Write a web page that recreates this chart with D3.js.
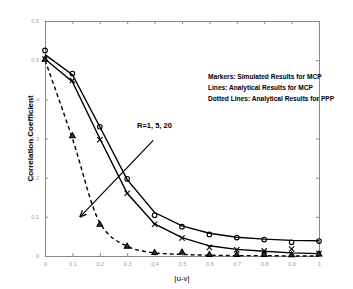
<!doctype html>
<html lang="en">
<head>
    <meta charset="UTF-8">
    <title>Correlation Coefficient</title>
    <style>
        body { margin: 0; background: #fff; }
        svg { font-family: "Liberation Sans", Arial, sans-serif; }
    </style>
</head>
<body>
<svg width="353" height="289"></svg>

<script src="https://d3js.org/d3.v7.min.js"></script>
<script>
    // |u-v| positions
    const distances = [0, 0.1, 0.2, 0.3, 0.4, 0.5, 0.6, 0.7, 0.8, 0.9, 1];

    // simulated MCP markers (circles / crosses), PPP markers (triangles)
    const simCircle = [0.525, 0.466, 0.330, 0.197, 0.104, 0.075, 0.055, 0.047, 0.042, 0.035, 0.038];
    const simCross  = [0.503, 0.448, 0.297, 0.160, 0.081, 0.046, 0.022, 0.016, 0.013, 0.018, 0.006];
    const simTri    = [0.500, 0.305, 0.079, 0.023, 0.007, 0.008, 0.002, 0.002, 0.002, 0.001, 0.003];

    // analytical curves
    const mcpUpper = [0.514, 0.463, 0.330, 0.195, 0.111, 0.077, 0.058, 0.048, 0.043, 0.040, 0.039];
    const mcpLower = [0.503, 0.445, 0.300, 0.160, 0.082, 0.047, 0.026, 0.017, 0.012, 0.008, 0.006];
    const pppCurve = [0.500, 0.300, 0.085, 0.025, 0.008, 0.004, 0.002, 0.001, 0.001, 0.000, 0.000];

    const xTicks = [0, 0.1, 0.2, 0.3, 0.4, 0.5, 0.6, 0.7, 0.8, 0.9, 1];
    const yTicks = [0, 0.1, 0.2, 0.3, 0.4, 0.5, 0.6];

    const legendLines = [
        'Markers: Simulated Results for MCP',
        'Lines: Analytical Results for MCP',
        'Dotted Lines: Analytical Results for PPP'
    ];

    const svg = d3.select('svg');
    const mLeft = 45, mRight = 319, mTop = 21, mBottom = 256;

    const x = d3.scaleLinear().domain([0, 1]).range([mLeft, mRight]);
    const y = d3.scaleLinear().domain([0, 0.6]).range([mBottom, mTop]);

    const axisColor = '#888';
    const tickColor = '#999';

    // axes (box with ticks on all sides)
    const xAxis = svg.append('g')
        .attr('transform', `translate(0,${mBottom})`)
        .call(d3.axisBottom(x).tickValues(xTicks).tickSize(-3).tickPadding(6)
            .tickFormat(d => d === 0 ? '0' : d === 1 ? '1' : d3.format('.1f')(d)));
    const yAxis = svg.append('g')
        .attr('transform', `translate(${mLeft},0)`)
        .call(d3.axisLeft(y).tickValues(yTicks).tickSize(-3).tickPadding(6)
            .tickFormat(d => d === 0 ? '0' : d3.format('.1f')(d)));
    const xTop = svg.append('g')
        .attr('transform', `translate(0,${mTop})`)
        .call(d3.axisTop(x).tickValues(xTicks).tickSize(-3).tickFormat(''));
    const yRight = svg.append('g')
        .attr('transform', `translate(${mRight},0)`)
        .call(d3.axisRight(y).tickValues(yTicks).tickSize(-3).tickFormat(''));

    [xAxis, yAxis, xTop, yRight].forEach(g => {
        g.select('.domain').attr('stroke', axisColor).attr('stroke-width', 1);
        g.selectAll('.tick line').attr('stroke', axisColor);
        g.selectAll('.tick text').attr('fill', tickColor).style('font-size', '5.5px');
    });

    // axis titles
    svg.append('text')
        .attr('x', x(0.5)).attr('y', 281)
        .attr('text-anchor', 'middle')
        .style('font-size', '8px')
        .text('|u-v|');
    svg.append('text')
        .attr('transform', `translate(33,${y(0.3)}) rotate(-90)`)
        .attr('text-anchor', 'middle')
        .style('font-size', '8px')
        .style('font-weight', 'bold')
        .text('Correlation Coefficient');

    const straight = d3.line().x((d, i) => x(distances[i])).y(d => y(d));
    const smooth = d3.line().x((d, i) => x(distances[i])).y(d => y(d)).curve(d3.curveMonotoneX);

    svg.append('path').datum(mcpUpper)
        .attr('d', straight).attr('fill', 'none').attr('stroke', '#000').attr('stroke-width', 1.4);
    svg.append('path').datum(mcpLower)
        .attr('d', straight).attr('fill', 'none').attr('stroke', '#000').attr('stroke-width', 1.4);
    svg.append('path').datum(pppCurve)
        .attr('d', smooth).attr('fill', 'none').attr('stroke', '#000')
        .attr('stroke-width', 1.4).attr('stroke-dasharray', '4,3');

    // markers
    svg.append('g').selectAll('circle').data(simCircle).join('circle')
        .attr('cx', (d, i) => x(distances[i])).attr('cy', d => y(d))
        .attr('r', 2.3).attr('fill', 'none').attr('stroke', '#000').attr('stroke-width', 1.1);

    const cross = d3.symbol().type(d3.symbolTimes).size(20);
    svg.append('g').selectAll('path').data(simCross).join('path')
        .attr('transform', (d, i) => `translate(${x(distances[i])},${y(d)})`)
        .attr('d', cross).attr('fill', 'none').attr('stroke', '#000').attr('stroke-width', 1.1);

    const tri = d3.symbol().type(d3.symbolTriangle).size(14);
    svg.append('g').selectAll('path').data(simTri).join('path')
        .attr('transform', (d, i) => `translate(${x(distances[i])},${y(d) - 0.5})`)
        .attr('d', tri).attr('fill', '#333').attr('stroke', '#000').attr('stroke-width', 1.1);

    // arrow for R
    svg.append('defs').append('marker')
        .attr('id', 'head').attr('viewBox', '0 0 10 10')
        .attr('refX', 9).attr('refY', 5)
        .attr('markerWidth', 6).attr('markerHeight', 6)
        .attr('orient', 'auto')
        .append('path').attr('d', 'M0,1L10,5L0,9').attr('fill', 'none')
        .attr('stroke', '#000').attr('stroke-width', 1.6);

    svg.append('line')
        .attr('x1', x(0.395)).attr('y1', y(0.295))
        .attr('x2', x(0.128)).attr('y2', y(0.1))
        .attr('stroke', '#000').attr('stroke-width', 1.2)
        .attr('marker-end', 'url(#head)');

    svg.append('text')
        .attr('x', 137).attr('y', 128)
        .style('font-size', '7.5px').style('font-weight', 'bold')
        .text('R=1, 5, 20');

    svg.append('g').selectAll('text').data(legendLines).join('text')
        .attr('x', 208).attr('y', (d, i) => 79 + i * 11)
        .style('font-size', '6.6px').style('font-weight', 'bold')
        .text(d => d);
</script>
</body>
</html>
